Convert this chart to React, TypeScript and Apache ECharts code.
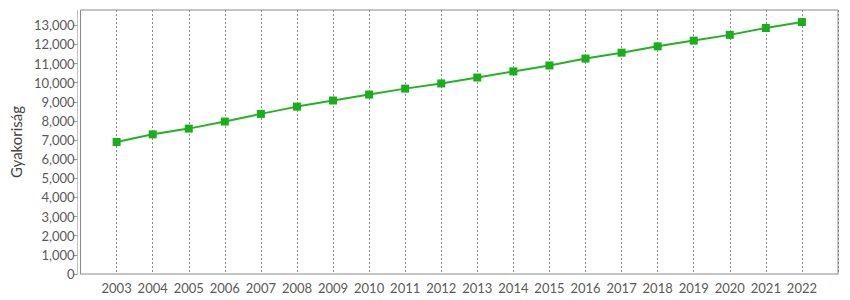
import React, { useEffect, useRef } from "react";
import * as echarts from "echarts";

const years: number[] = [2003, 2004, 2005, 2006, 2007, 2008, 2009, 2010, 2011, 2012, 2013, 2014, 2015, 2016, 2017, 2018, 2019, 2020, 2021, 2022];
const frequency: number[] = [6900, 7300, 7600, 7970, 8370, 8750, 9070, 9380, 9690, 9960, 10270, 10590, 10900, 11260, 11570, 11900, 12200, 12500, 12860, 13170];
const yAxisName = "Gyakoriság";

const FONT = "Lato, 'Noto Sans', sans-serif";

export default function App() {
  const ref = useRef<HTMLDivElement>(null);
  useEffect(() => {
    if (!ref.current) return;
    const chart = echarts.init(ref.current, undefined, { renderer: "svg" });
    chart.setOption({
      animation: false,
      grid: {
        show: true,
        left: 78,
        top: 10,
        right: 12,
        bottom: 26,
        borderColor: "#8a8a8a",
        borderWidth: 1,
        backgroundColor: "transparent",
      },
      xAxis: {
        type: "value",
        min: 2002,
        max: 2023,
        interval: 1,
        offset: 3,
        axisLine: { show: true, lineStyle: { color: "#c4c4c4", width: 1 } },
        axisTick: { show: false },
        axisLabel: {
          showMinLabel: false,
          showMaxLabel: false,
          color: "#5a5a5a",
          fontFamily: FONT,
          fontSize: 13,
          margin: 4,
          formatter: (v: number) => String(v),
        },
        splitLine: {
          show: true,
          lineStyle: { color: "#8a8a8a", type: [2, 2], width: 1 },
        },
      },
      yAxis: {
        type: "value",
        min: 0,
        max: 13800,
        interval: 1000,
        offset: 3,
        name: yAxisName,
        nameLocation: "middle",
        nameGap: 50,
        nameTextStyle: { color: "#444", fontFamily: FONT, fontSize: 15 },
        axisLine: { show: true, lineStyle: { color: "#c4c4c4", width: 1 } },
        axisTick: { show: true, length: 4, lineStyle: { color: "#999" } },
        axisLabel: {
          showMaxLabel: false,
          color: "#5a5a5a",
          fontFamily: FONT,
          fontSize: 13,
          margin: 3,
          formatter: (v: number) => v.toLocaleString("en-US"),
        },
        splitLine: { show: false },
      },
      series: [
        {
          type: "line",
          data: years.map((y, i) => [y, frequency[i]]),
          symbol: "rect",
          symbolSize: 8,
          lineStyle: { color: "#22b322", width: 2 },
          itemStyle: { color: "#1aae1a" },
        },
      ],
    });
    return () => chart.dispose();
  }, []);
  return <div ref={ref} style={{ width: 850, height: 300, marginLeft: -8, marginTop: -8 }} />;
}
